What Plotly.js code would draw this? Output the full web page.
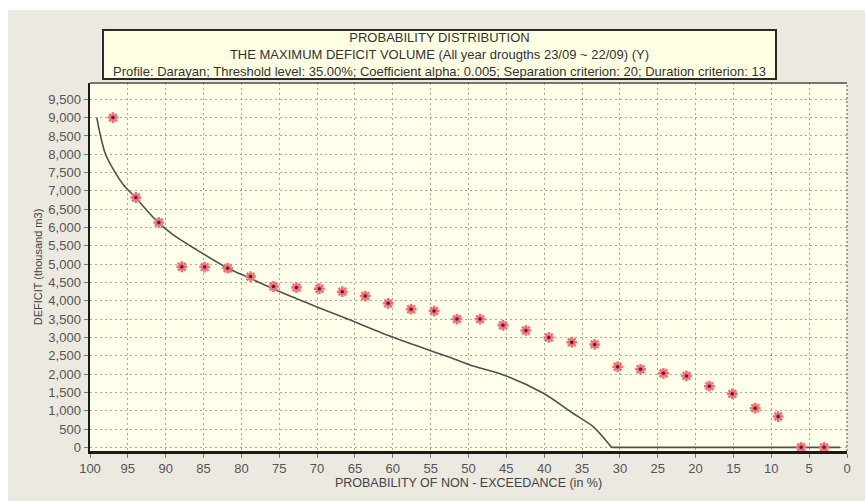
<!DOCTYPE html>
<html>
<head>
<meta charset="utf-8">
<script src="https://cdn.plot.ly/plotly-3.0.1.min.js"></script>
<style>
  html, body { margin: 0; padding: 0; background: #ffffff; width: 865px; height: 501px; overflow: hidden; }
  #chart { position: absolute; left: 8px; top: 10px; width: 857px; height: 491px; }
</style>
</head>
<body>
<div id="chart"></div>
<script>
// Observed data points (probability of non-exceedance %, deficit thousand m3)
const probX = [96.97, 93.94, 90.91, 87.88, 84.85, 81.82, 78.79, 75.76, 72.73, 69.70,
               66.67, 63.64, 60.61, 57.58, 54.55, 51.52, 48.48, 45.45, 42.42, 39.39,
               36.36, 33.33, 30.30, 27.27, 24.24, 21.21, 18.18, 15.15, 12.12, 9.09,
               6.06, 3.03];
const deficit = [9000, 6820, 6140, 4930, 4920, 4890, 4660, 4390, 4360, 4330,
                 4250, 4130, 3930, 3770, 3720, 3500, 3500, 3330, 3190, 3000,
                 2870, 2810, 2200, 2130, 2020, 1950, 1670, 1460, 1070, 840,
                 0, 0];

// Fitted distribution curve (falling part)
const curveX = [99.1, 98.7, 98.0, 96.9, 95.6, 94.0, 91.0, 89.0, 85.9, 81.8,
                78.9, 74.5, 70.1, 65.7, 61.3, 56.8, 52.4, 49.8, 45.0, 40.1,
                36.2, 33.5, 31.1];
const curveY = [9000, 8580, 8030, 7580, 7170, 6820, 6140, 5800, 5390, 4890,
                4620, 4210, 3840, 3480, 3110, 2770, 2450, 2250, 1950, 1475,
                930, 560, 0];
// Fitted distribution curve (zero part)
const tailX = [31.1, 0.9];
const tailY = [0, 0];

const titleLines = [
  "PROBABILITY DISTRIBUTION",
  "THE MAXIMUM DEFICIT VOLUME (All year drougths 23/09 ~ 22/09) (Y)",
  "Profile: Darayan; Threshold level: 35.00%; Coefficient alpha: 0.005; Separation criterion: 20; Duration criterion: 13"
];
const xTitle = "PROBABILITY OF NON - EXCEEDANCE (in %)";
const yTitle = "DEFICIT (thousand m3)";

const curveLine = {color: '#505050', width: 1.6};
const traces = [
  {
    x: curveX, y: curveY, type: 'scatter', mode: 'lines',
    line: Object.assign({shape: 'spline', smoothing: 0.8}, curveLine),
    hoverinfo: 'skip', showlegend: false
  },
  {
    x: tailX, y: tailY, type: 'scatter', mode: 'lines',
    line: Object.assign({shape: 'linear'}, curveLine),
    hoverinfo: 'skip', showlegend: false
  },
  {
    x: probX, y: deficit, type: 'scatter', mode: 'markers',
    marker: {symbol: 'asterisk', size: 9, color: '#f07078', line: {color: '#f07078', width: 2.5}},
    showlegend: false
  },
  {
    x: probX, y: deficit, type: 'scatter', mode: 'markers',
    marker: {symbol: 'circle', size: 3.5, color: '#7a1515'},
    showlegend: false, hoverinfo: 'skip'
  }
];

const gridCol = '#a8a89a';
const layout = {
  width: 857, height: 491,
  paper_bgcolor: '#ebe9e0',
  plot_bgcolor: '#ffffea',
  margin: {l: 82, r: 18, t: 73, b: 50},
  font: {family: 'Liberation Sans, Arial, sans-serif', color: '#444'},
  title: {
    text: titleLines.join('<br>'),
    font: {size: 13, color: '#333', family: 'Liberation Sans, Arial, sans-serif'},
    xref: 'container', x: 0.5035, xanchor: 'center',
    yref: 'container', y: 0.935, yanchor: 'middle'
  },
  xaxis: {
    range: [100, 0], dtick: 5, tick0: 0,
    showgrid: true, gridcolor: gridCol, griddash: '2px,3px', gridwidth: 1,
    zeroline: false,
    showline: true, linecolor: '#1a1a1a', linewidth: 2.5,
    ticks: 'outside', ticklen: 4, tickcolor: '#777',
    tickfont: {size: 13, color: '#555'},
    title: {text: xTitle, font: {size: 12.5, color: '#444'}, standoff: 3}
  },
  yaxis: {
    range: [-100, 9945], dtick: 500, tick0: 0, tickformat: ',',
    showgrid: true, gridcolor: gridCol, griddash: '2px,3px', gridwidth: 1,
    zeroline: false,
    showline: true, linecolor: '#1a1a1a', linewidth: 2.5,
    ticks: 'outside', ticklen: 4, tickcolor: '#777',
    tickfont: {size: 13, color: '#555'},
    title: {text: yTitle, font: {size: 11, color: '#444'}, standoff: 4}
  },
  shapes: [
    // title box
    {type: 'rect', xref: 'paper', yref: 'paper', x0: 0.0172, x1: 0.9062, y0: 1.0109, y1: 1.1440,
     fillcolor: '#ffffe4', line: {color: '#2a2a2a', width: 2}, layer: 'below'},
    // top border of plot
    {type: 'line', xref: 'paper', yref: 'paper', x0: 0, x1: 1, y0: 1, y1: 1,
     line: {color: '#4a4a4a', width: 1.5}},
    // right border of plot
    {type: 'line', xref: 'paper', yref: 'paper', x0: 1, x1: 1, y0: 0, y1: 1,
     line: {color: '#888', width: 1.5, dash: '2px,2px'}}
  ]
};

Plotly.newPlot('chart', traces, layout, {displayModeBar: false, staticPlot: true});
</script>
</body>
</html>
